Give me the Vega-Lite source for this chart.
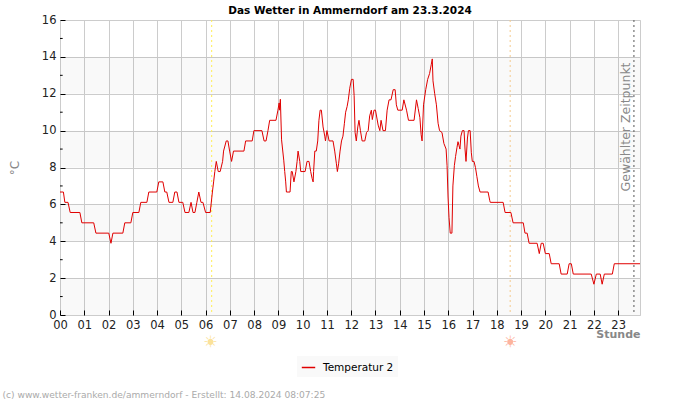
{"$schema":"https://vega.github.io/schema/vega-lite/v6.json","width":580,"height":295,"autosize":"none","padding":{"left":60,"top":20,"right":60,"bottom":85},"background":"white","view":{"stroke":"#cccccc","strokeWidth":1},
"title":{"text":"Das Wetter in Ammerndorf am 23.3.2024","font":"DejaVu Sans","fontSize":10.5,"fontWeight":"bold","color":"#000000","anchor":"middle","offset":-2},
"config":{"font":"DejaVu Sans"},
"datasets":{
"bands":[{"a":0,"b":2},{"a":4,"b":6},{"a":8,"b":10},{"a":12,"b":14}],
"minor":[{"t":1},{"t":3},{"t":5},{"t":7},{"t":9},{"t":11},{"t":13},{"t":15}],
"events":[{"h":6.25,"c":"sunrise"},{"h":18.55,"c":"sunset"},{"h":23.65,"c":"now"}],
"suns":[{"h":6.2,"t":-1.47,"c":"sunrise"},{"h":18.55,"t":-1.47,"c":"sunset"}],
"notes":[{"h":23.32,"t":10.2,"s":"Gewählter Zeitpunkt"}],
"foot":[{"h":-2.37,"t":-4.32,"s":"(c) www.wetter-franken.de/ammerndorf - Erstellt: 14.08.2024 08:07:25"}],
"temp":[
{"h":0,"t":6.67},{"h":0.14,"t":6.67},{"h":0.2,"t":6.11},{"h":0.33,"t":6.11},{"h":0.42,"t":5.56},{"h":0.82,"t":5.56},{"h":0.9,"t":5},{"h":1.39,"t":5},{"h":1.48,"t":4.44},{"h":2.01,"t":4.44},{"h":2.1,"t":3.89},{"h":2.18,"t":4.44},{"h":2.59,"t":4.44},{"h":2.67,"t":5},{"h":2.92,"t":5},{"h":3,"t":5.56},{"h":3.25,"t":5.56},{"h":3.33,"t":6.11},{"h":3.58,"t":6.11},{"h":3.66,"t":6.67},{"h":3.99,"t":6.67},{"h":4.07,"t":7.22},{"h":4.24,"t":7.22},{"h":4.32,"t":6.67},{"h":4.4,"t":6.67},{"h":4.49,"t":6.11},{"h":4.65,"t":6.11},{"h":4.73,"t":6.67},{"h":4.82,"t":6.67},{"h":4.9,"t":6.11},{"h":5.06,"t":6.11},{"h":5.15,"t":5.56},{"h":5.31,"t":5.56},{"h":5.4,"t":6.11},{"h":5.48,"t":5.56},{"h":5.56,"t":5.56},{"h":5.64,"t":6.11},{"h":5.72,"t":6.67},{"h":5.81,"t":6.11},{"h":5.89,"t":6.11},{"h":6,"t":5.56},{"h":6.19,"t":5.56},{"h":6.28,"t":6.67},{"h":6.33,"t":7.22},{"h":6.38,"t":7.78},{"h":6.44,"t":8.33},{"h":6.52,"t":7.78},{"h":6.6,"t":7.78},{"h":6.7,"t":8.33},{"h":6.74,"t":8.89},{"h":6.85,"t":9.44},{"h":6.92,"t":9.44},{"h":6.99,"t":8.89},{"h":7.07,"t":8.33},{"h":7.15,"t":8.89},{"h":7.58,"t":8.89},{"h":7.65,"t":9.44},{"h":7.92,"t":9.44},{"h":7.99,"t":10},{"h":8.32,"t":10},{"h":8.41,"t":9.44},{"h":8.49,"t":9.44},{"h":8.57,"t":10},{"h":8.64,"t":10.56},{"h":8.9,"t":10.56},{"h":8.98,"t":11.11},{"h":9.03,"t":11.5},{"h":9.05,"t":11.11},{"h":9.08,"t":11.7},{"h":9.13,"t":9.5},{"h":9.22,"t":8.4},{"h":9.26,"t":7.78},{"h":9.3,"t":7.22},{"h":9.33,"t":6.67},{"h":9.48,"t":6.67},{"h":9.53,"t":7.78},{"h":9.57,"t":7.78},{"h":9.64,"t":7.22},{"h":9.72,"t":7.78},{"h":9.77,"t":8.33},{"h":9.81,"t":8.89},{"h":9.88,"t":8.33},{"h":9.92,"t":7.78},{"h":10.1,"t":7.78},{"h":10.18,"t":8.33},{"h":10.26,"t":8.33},{"h":10.33,"t":7.78},{"h":10.39,"t":7.4},{"h":10.43,"t":7.22},{"h":10.45,"t":7.78},{"h":10.5,"t":8.89},{"h":10.56,"t":8.89},{"h":10.62,"t":9.44},{"h":10.67,"t":10.56},{"h":10.72,"t":11.11},{"h":10.77,"t":11.11},{"h":10.84,"t":10.2},{"h":10.91,"t":9.7},{"h":10.94,"t":9.44},{"h":11,"t":10},{"h":11.09,"t":9.44},{"h":11.25,"t":9.44},{"h":11.32,"t":8.89},{"h":11.39,"t":8.2},{"h":11.43,"t":7.78},{"h":11.48,"t":8.2},{"h":11.54,"t":8.89},{"h":11.6,"t":9.44},{"h":11.66,"t":9.7},{"h":11.72,"t":10.4},{"h":11.77,"t":11},{"h":11.83,"t":11.3},{"h":11.88,"t":11.67},{"h":11.94,"t":12.3},{"h":12.01,"t":12.78},{"h":12.08,"t":12.78},{"h":12.12,"t":11.9},{"h":12.16,"t":9.9},{"h":12.21,"t":9.44},{"h":12.27,"t":10.2},{"h":12.32,"t":10.56},{"h":12.38,"t":10},{"h":12.45,"t":9.44},{"h":12.56,"t":9.44},{"h":12.63,"t":9.9},{"h":12.7,"t":10},{"h":12.76,"t":10.8},{"h":12.83,"t":11.11},{"h":12.87,"t":10.6},{"h":12.94,"t":11.11},{"h":13,"t":11.11},{"h":13.11,"t":10.3},{"h":13.18,"t":10},{"h":13.23,"t":10.56},{"h":13.31,"t":10},{"h":13.41,"t":10},{"h":13.48,"t":11.11},{"h":13.56,"t":11.67},{"h":13.64,"t":11.67},{"h":13.73,"t":12.22},{"h":13.81,"t":12.22},{"h":13.86,"t":11.4},{"h":13.92,"t":11.11},{"h":14.1,"t":11.11},{"h":14.17,"t":11.67},{"h":14.28,"t":11.11},{"h":14.36,"t":10.56},{"h":14.59,"t":10.56},{"h":14.69,"t":11.67},{"h":14.76,"t":11.2},{"h":14.83,"t":10.7},{"h":14.88,"t":9.8},{"h":14.92,"t":9.44},{"h":14.98,"t":11.4},{"h":15.07,"t":12.22},{"h":15.15,"t":12.78},{"h":15.23,"t":13.1},{"h":15.3,"t":13.6},{"h":15.34,"t":13.89},{"h":15.37,"t":12.7},{"h":15.44,"t":12},{"h":15.51,"t":11.4},{"h":15.58,"t":10.4},{"h":15.64,"t":10},{"h":15.74,"t":9.9},{"h":15.82,"t":9.3},{"h":15.91,"t":9},{"h":15.95,"t":8.1},{"h":15.99,"t":6.4},{"h":16.03,"t":5.3},{"h":16.08,"t":4.44},{"h":16.15,"t":4.44},{"h":16.19,"t":7},{"h":16.25,"t":8.1},{"h":16.3,"t":8.6},{"h":16.36,"t":9.1},{"h":16.4,"t":9.4},{"h":16.44,"t":9.2},{"h":16.48,"t":9},{"h":16.52,"t":9.7},{"h":16.58,"t":10},{"h":16.65,"t":10},{"h":16.69,"t":9},{"h":16.73,"t":8.33},{"h":16.79,"t":9.6},{"h":16.83,"t":10},{"h":16.9,"t":10},{"h":16.95,"t":8.8},{"h":16.99,"t":8.33},{"h":17.06,"t":8.33},{"h":17.12,"t":8},{"h":17.18,"t":7.5},{"h":17.24,"t":7},{"h":17.31,"t":6.67},{"h":17.64,"t":6.67},{"h":17.71,"t":6.2},{"h":17.73,"t":6.11},{"h":18.26,"t":6.11},{"h":18.34,"t":5.56},{"h":18.58,"t":5.56},{"h":18.67,"t":5},{"h":19.09,"t":5},{"h":19.16,"t":4.44},{"h":19.25,"t":4.44},{"h":19.33,"t":3.89},{"h":19.66,"t":3.89},{"h":19.75,"t":3.33},{"h":19.83,"t":3.89},{"h":19.91,"t":3.89},{"h":20,"t":3.33},{"h":20.16,"t":3.33},{"h":20.24,"t":2.78},{"h":20.57,"t":2.78},{"h":20.65,"t":2.22},{"h":20.9,"t":2.22},{"h":20.98,"t":2.78},{"h":21.07,"t":2.78},{"h":21.15,"t":2.22},{"h":21.89,"t":2.22},{"h":22,"t":1.67},{"h":22.1,"t":2.22},{"h":22.26,"t":2.22},{"h":22.34,"t":1.67},{"h":22.43,"t":2.22},{"h":22.76,"t":2.22},{"h":22.84,"t":2.78},{"h":23.9,"t":2.78}
]},
"layer":[
{"data":{"name":"temp"},"mark":{"type":"line","strokeWidth":1,"interpolate":"linear","opacity":0},"encoding":{"x":{"field":"h","type":"quantitative","scale":{"domain":[0,23.9],"nice":false},"axis":{"values":[0,1,2,3,4,5,6,7,8,9,10,11,12,13,14,15,16,17,18,19,20,21,22,23],"grid":true,"labelOverlap":false,"labelExpr":"(datum.value<10?'0':'')+datum.value","title":"Stunde","titleAnchor":"end","titleColor":"#888888","titleFontSize":11,"titleFontWeight":"bold","titlePadding":-2,"labelColor":"#222222","labelFontSize":11.5,"labelPadding":9,"labelFlush":false,"tickColor":"#000000","tickSize":-5,"gridColor":"#cccccc","domain":false}},"y":{"field":"t","type":"quantitative","scale":{"domain":[0,16],"nice":false},"axis":{"values":[0,2,4,6,8,10,12,14,16],"grid":true,"labelOverlap":false,"title":"°C","titleColor":"#888888","titleFontWeight":"normal","titleFontSize":12,"titlePadding":20,"labelColor":"#222222","labelFontSize":11.5,"labelPadding":9,"tickColor":"#000000","tickSize":-5,"gridColor":"#cccccc","domain":false}}}},
{"data":{"name":"bands"},"mark":{"type":"rect","fill":"#000000","opacity":0.024},"encoding":{"y":{"field":"a","type":"quantitative","axis":{"values":[0,2,4,6,8,10,12,14,16],"title":"°C"}},"y2":{"field":"b"}}},
{"data":{"name":"minor"},"mark":{"type":"rule","color":"#000000"},"encoding":{"y":{"field":"t","type":"quantitative","axis":{"values":[0,2,4,6,8,10,12,14,16],"title":"°C"}},"x":{"datum":0,"type":"quantitative","axis":{"values":[0,1,2,3,4,5,6,7,8,9,10,11,12,13,14,15,16,17,18,19,20,21,22,23],"title":"Stunde"}},"x2":{"datum":0.11}}},
{"data":{"name":"events"},"mark":{"type":"rule","strokeDash":[2,3]},"encoding":{"x":{"field":"h","type":"quantitative","axis":{"values":[0,1,2,3,4,5,6,7,8,9,10,11,12,13,14,15,16,17,18,19,20,21,22,23],"title":"Stunde"}},"color":{"field":"c","type":"nominal","scale":{"domain":["sunrise","sunset","now"],"range":["#ffee55","#f5c98a","#555555"]},"legend":null}}},
{"data":{"name":"temp"},"mark":{"type":"line","strokeWidth":1,"interpolate":"linear"},"encoding":{"x":{"field":"h","type":"quantitative","axis":{"values":[0,1,2,3,4,5,6,7,8,9,10,11,12,13,14,15,16,17,18,19,20,21,22,23],"title":"Stunde"}},"y":{"field":"t","type":"quantitative","axis":{"values":[0,2,4,6,8,10,12,14,16],"title":"°C"}},"stroke":{"datum":"Temperatur 2","scale":{"domain":["Temperatur 2"],"range":["#e00000"]},"legend":{"title":null,"orient":"none","legendX":237,"legendY":336,"fillColor":"#f9f9f9","padding":4,"symbolType":"stroke","symbolSize":180,"symbolStrokeWidth":1.5,"labelFontSize":10.5,"labelColor":"#000000","labelOffset":7}}}},
{"data":{"name":"suns"},"mark":{"type":"point","filled":true,"shape":"circle","size":32,"opacity":1},"encoding":{"x":{"field":"h","type":"quantitative","axis":{"values":[0,1,2,3,4,5,6,7,8,9,10,11,12,13,14,15,16,17,18,19,20,21,22,23],"title":"Stunde"}},"y":{"field":"t","type":"quantitative","axis":{"values":[0,2,4,6,8,10,12,14,16],"title":"°C"}},"color":{"field":"c","type":"nominal","scale":{"domain":["sunrise","sunset"],"range":["#fbe29a","#fdb49e"]},"legend":null}}},
{"data":{"name":"suns"},"mark":{"type":"text","text":"☀","fontSize":16,"font":"DejaVu Sans"},"encoding":{"x":{"field":"h","type":"quantitative","axis":{"values":[0,1,2,3,4,5,6,7,8,9,10,11,12,13,14,15,16,17,18,19,20,21,22,23],"title":"Stunde"}},"y":{"field":"t","type":"quantitative","axis":{"values":[0,2,4,6,8,10,12,14,16],"title":"°C"}},"color":{"field":"c","type":"nominal","scale":{"domain":["sunrise","sunset"],"range":["#fbe29a","#fdb49e"]},"legend":null}}},
{"data":{"name":"notes"},"mark":{"type":"text","angle":270,"fontSize":12.5,"color":"#888888","font":"DejaVu Sans"},"encoding":{"x":{"field":"h","type":"quantitative","axis":{"values":[0,1,2,3,4,5,6,7,8,9,10,11,12,13,14,15,16,17,18,19,20,21,22,23],"title":"Stunde"}},"y":{"field":"t","type":"quantitative","axis":{"values":[0,2,4,6,8,10,12,14,16],"title":"°C"}},"text":{"field":"s"}}},
{"data":{"name":"foot"},"mark":{"type":"text","align":"left","fontSize":9.1,"color":"#aaaaaa","font":"DejaVu Sans"},"encoding":{"x":{"field":"h","type":"quantitative","axis":{"values":[0,1,2,3,4,5,6,7,8,9,10,11,12,13,14,15,16,17,18,19,20,21,22,23],"title":"Stunde"}},"y":{"field":"t","type":"quantitative","axis":{"values":[0,2,4,6,8,10,12,14,16],"title":"°C"}},"text":{"field":"s"}}}
],
"resolve":{"scale":{"color":"independent"}}}
